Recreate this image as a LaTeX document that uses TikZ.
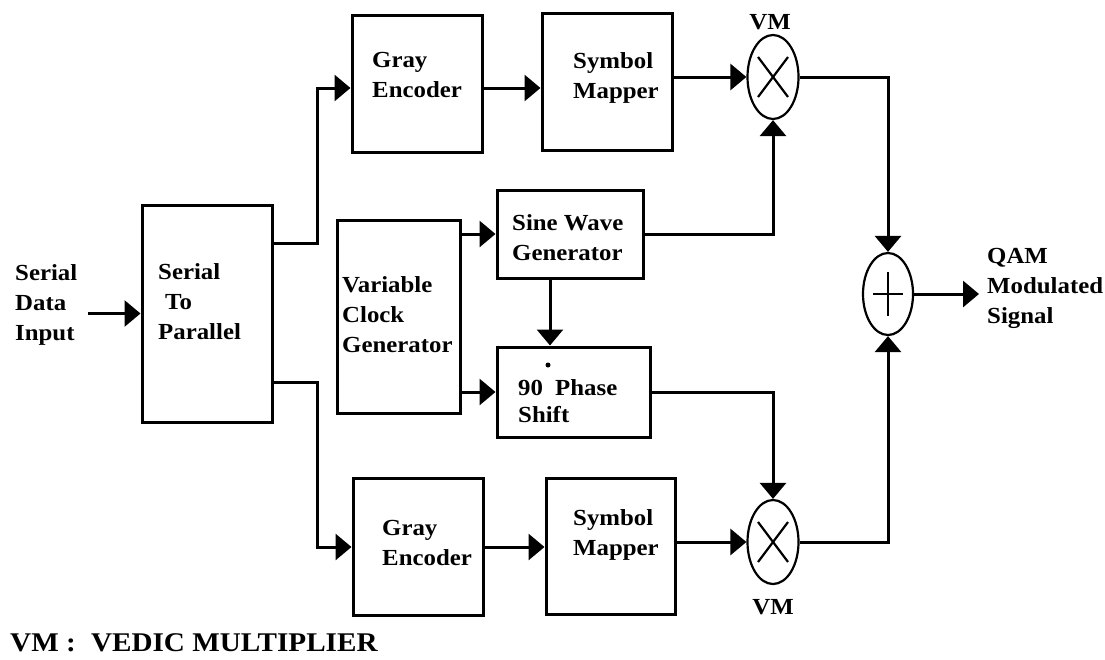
\documentclass[tikz,border=0pt]{standalone}
\usepackage{fontspec}
\setmainfont{Liberation Serif}[FakeStretch=1.08]
\usetikzlibrary{arrows.meta, shapes.geometric, calc}

\begin{document}
\begin{tikzpicture}[x=1pt, y=-1pt,
    blk/.style={draw, line width=3pt, inner sep=0pt},
    op/.style={draw, ellipse, line width=2.2pt, minimum width=51pt, minimum height=84pt, inner sep=0pt},
    txt/.style={align=left, anchor=west, inner sep=0pt, font=\fontsize{23}{30}\selectfont\bfseries},
    conn/.style={line width=3pt},
    arr/.style={conn, -{Triangle[length=16pt, width=26pt]}}
]
    % Page size
    \useasboundingbox (0,0) rectangle (1105,659);

    % Draw blocks
    \node[blk, minimum width=130pt, minimum height=217pt] (s2p) at (207,313.5) {};
    \node[blk, minimum width=130pt, minimum height=137pt] (ge1) at (417,83.5) {};
    \node[blk, minimum width=130pt, minimum height=137pt] (sm1) at (607,81.5) {};
    \node[blk, minimum width=123pt, minimum height=193pt] (vcg) at (398.5,316.5) {};
    \node[blk, minimum width=146pt, minimum height=88pt] (swg) at (570,234) {};
    \node[blk, minimum width=153pt, minimum height=90pt] (ps) at (573.5,392) {};
    \node[blk, minimum width=130pt, minimum height=137pt] (ge2) at (418,546.5) {};
    \node[blk, minimum width=129pt, minimum height=136pt] (sm2) at (610.5,546) {};

    % Multipliers and adder
    \node[op] (mul1) at (773,77) {};
    \node[op] (mul2) at (773,542) {};
    \node[op, minimum width=50pt, minimum height=82pt] (add) at (888,294) {};
    \foreach \m in {mul1, mul2} {
        \draw[line width=2.2pt] ($(\m)+(-15,-20)$) -- ($(\m)+(15,20)$);
        \draw[line width=2.2pt] ($(\m)+(-15,20)$) -- ($(\m)+(15,-20)$);
    }
    \draw[line width=2.2pt] ($(add)+(-15,0)$) -- ($(add)+(15,0)$);
    \draw[line width=2.2pt] ($(add)+(0,-22)$) -- ($(add)+(0,22)$);

    % Block texts
    \node[txt] (tin) at (15,305) {Serial\\Data\\Input};
    \node[txt] (ts2p) at (158,302) {Serial\\\hspace*{7pt}To\\Parallel};
    \node[txt] (tge1) at (372,75) {Gray\\Encoder};
    \node[txt] (tsm1) at (573,77.5) {Symbol\\Mapper};
    \node[txt] (tvcg) at (342,315) {Variable\\Clock\\Generator};
    \node[txt] (tswg) at (512,237.5) {Sine Wave\\Generator};
    \node[txt, font=\fontsize{23}{27}\selectfont\bfseries] (tps) at (518,401) {90\hspace{6pt} Phase\\Shift};
    \node[circle, fill, inner sep=0pt, minimum size=5pt] (deg) at (548,365) {};
    \node[txt] (tge2) at (382,542.5) {Gray\\Encoder};
    \node[txt] (tsm2) at (573,535) {Symbol\\Mapper};
    \node[txt] (tout) at (987,288) {QAM\\Modulated\\Signal};
    \node[txt, anchor=center] (vm1) at (770,22) {VM};
    \node[txt, anchor=center] (vm2) at (773,607) {VM};
    \node[txt, font=\fontsize{27}{30}\selectfont\bfseries] (legend) at (10,643) {VM :\hspace{8pt} VEDIC MULTIPLIER};

    % Rails from the serial to parallel block
    \coordinate (in) at (88,313.5);
    \coordinate (r1) at (317,88);
    \coordinate (r2) at (317,547);
    \coordinate (out) at (979,294);

    % Draw connectors
    \draw[arr] (in) -- (s2p.west);
    \draw[arr] ([yshift=70.5pt]s2p.east) -| (r1) -- (r1 -| ge1.west);
    \draw[arr] ([yshift=-68.5pt]s2p.east) -| (r2) -- (r2 -| ge2.west);
    \draw[arr] (r1 -| ge1.east) -- (r1 -| sm1.west);
    \draw[arr] (r2 -| ge2.east) -- (r2 -| sm2.west);
    \draw[arr] (sm1.east |- mul1) -- (mul1.west);
    \draw[arr] (sm2.east |- mul2) -- (mul2.west);
    \draw[arr] (vcg.east |- swg) -- (swg.west);
    \draw[arr] (vcg.east |- ps) -- (ps.west);
    \draw[arr] ([xshift=-20pt]swg.south) -- ([xshift=-23.5pt]ps.north);
    \draw[arr] (swg.east) -| (mul1.south);
    \draw[arr] (ps.east) -| (mul2.north);
    \draw[arr] (mul1.east) -| (add.north);
    \draw[arr] (mul2.east) -| (add.south);
    \draw[arr] (add.east) -- (out);

\end{tikzpicture}
\end{document}
